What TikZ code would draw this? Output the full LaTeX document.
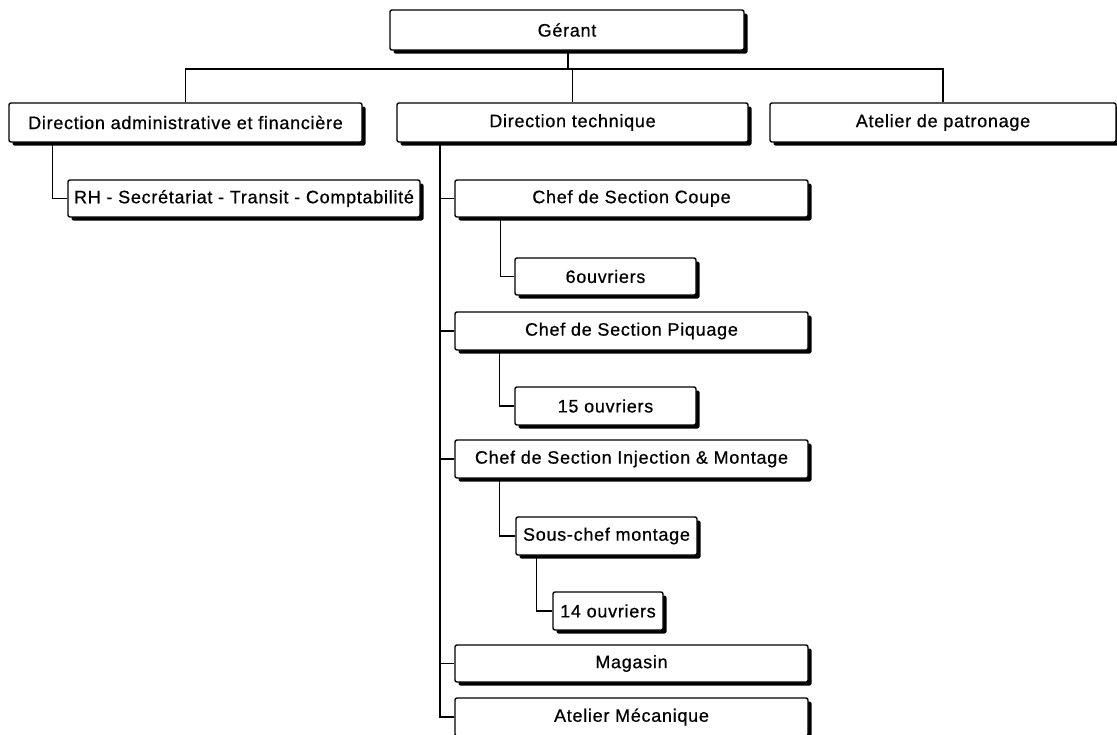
\documentclass[tikz,border=0pt]{standalone}
\usepackage{fontspec}
\setmainfont{Liberation Sans}[LetterSpace=4.0, FakeBold=0.6]
\usetikzlibrary{shadows}
\tikzset{
  box/.style={draw=black, line width=1.4pt, fill=white, rounded corners=2pt,
    inner sep=0pt, align=center, font=\fontsize{18}{21}\selectfont,
    drop shadow={shadow xshift=3.5pt, shadow yshift=-3.5pt, fill=black, opacity=1}},
  conn/.style={draw=black, line width=1.4pt}
}
\begin{document}
\begin{tikzpicture}[x=1pt,y=-1pt]
\useasboundingbox (0,0) rectangle (1117,734);
\clip (0,0) rectangle (1117,734);
\fill[white] (0,0) rectangle (1117,734);
% nodes
\node[box, minimum width=354pt, minimum height=40pt] (gerant) at (567,30) {Gérant};
\node[box, minimum width=353pt, minimum height=39pt] (dadm) at (185.5,122.5) {Direction administrative et financière};
\node[box, minimum width=351pt, minimum height=39pt] (dtech) at (572.5,122.5) {Direction technique};
\node[box, minimum width=346pt, minimum height=39pt] (atel) at (943,122.5) {Atelier de patronage};
\node[box, minimum width=352pt, minimum height=37pt] (rh) at (244,198.5) {RH - Secrétariat - Transit - Comptabilité};
\node[box, minimum width=353pt, minimum height=37pt] (coupe) at (631.5,198.5) {Chef de Section Coupe};
\node[box, minimum width=181pt, minimum height=37pt] (ouv6) at (605.5,276.5) {6ouvriers};
\node[box, minimum width=353pt, minimum height=38pt] (piq) at (631.5,331) {Chef de Section Piquage};
\node[box, minimum width=181pt, minimum height=38pt] (ouv15) at (605.5,406) {15 ouvriers};
\node[box, minimum width=353pt, minimum height=38pt] (inj) at (631.5,459) {Chef de Section Injection \& Montage};
\node[box, minimum width=181pt, minimum height=38pt] (sous) at (606.5,536) {Sous-chef montage};
\node[box, minimum width=110pt, minimum height=38pt] (ouv14) at (608,611) {14 ouvriers};
\node[box, minimum width=353pt, minimum height=37pt] (mag) at (631.5,663.5) {Magasin};
\node[box, minimum width=353pt, minimum height=38pt] (meca) at (631.5,717) {Atelier Mécanique};
% connectors
\coordinate (bus) at (568,69);
\coordinate (tr) at (440,0);
\draw[conn] (gerant.south -| bus) -- (bus);
\draw[conn] (dadm.north) |- (bus) -| (atel.north);
\draw[conn] (bus -| dtech.north) -- (dtech.north);
\draw[conn] ([xshift=44pt]dadm.south west) |- (rh.west);
\draw[conn] (dtech.south -| tr) |- (meca.west);
\draw[conn] (coupe.west -| tr) -- (coupe.west);
\draw[conn] (piq.west -| tr) -- (piq.west);
\draw[conn] (inj.west -| tr) -- (inj.west);
\draw[conn] (mag.west -| tr) -- (mag.west);
\draw[conn] ([xshift=46pt]coupe.south west) |- (ouv6.west);
\draw[conn] ([xshift=45pt]piq.south west) |- (ouv15.west);
\draw[conn] ([xshift=45pt]inj.south west) |- (sous.west);
\draw[conn] ([xshift=21pt]sous.south west) |- (ouv14.west);
\end{tikzpicture}
\end{document}
